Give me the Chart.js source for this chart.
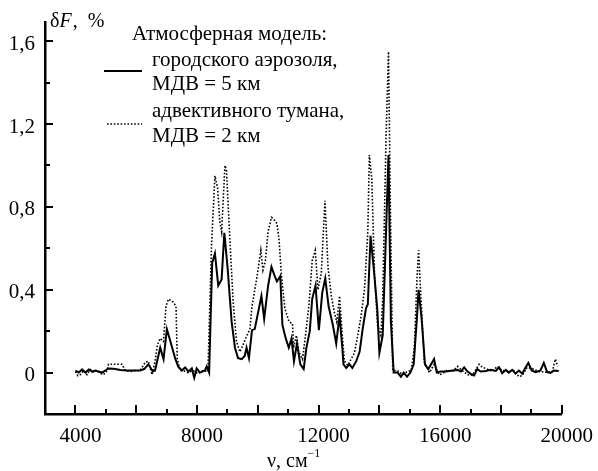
<!DOCTYPE html>
<html>
<head>
<meta charset="utf-8">
<script src="https://cdn.jsdelivr.net/npm/chart.js@4"></script>
<style>
  html, body { margin: 0; padding: 0; background: #fff; }
</style>
</head>
<body>
<canvas id="chart" width="598" height="471"></canvas>
<script>
// Wavenumbers (cm^-1) and deltaF (%)
const urbanNu = [4000, 4110, 4220, 4330, 4440, 4550, 4660, 4760, 4880, 4980, 5090, 5260, 5480, 5700, 5910, 6130, 6260, 6400, 6550, 6620, 6790, 6900, 7010, 7280, 7380, 7500, 7610, 7720, 7830, 7910, 7990, 8100, 8260, 8320, 8400, 8500, 8590, 8700, 8810, 8900, 9010, 9140, 9250, 9350, 9470, 9570, 9630, 9710, 9810, 9900, 10010, 10120, 10210, 10340, 10450, 10560, 10630, 10740, 10810, 10920, 11020, 11110, 11190, 11290, 11400, 11510, 11600, 11710, 11790, 11900, 12010, 12120, 12220, 12330, 12470, 12580, 12690, 12780, 12820, 12910, 13020, 13110, 13240, 13350, 13450, 13560, 13620, 13710, 13810, 13930, 14000, 14110, 14300, 14380, 14470, 14600, 14710, 14800, 14910, 15020, 15130, 15240, 15290, 15390, 15500, 15610, 15800, 15890, 16020, 16190, 16400, 16570, 16680, 16790, 16900, 17010, 17120, 17220, 17330, 17500, 17660, 17830, 17940, 18040, 18160, 18260, 18370, 18480, 18590, 18700, 18790, 18900, 19010, 19140, 19300, 19410, 19520, 19630, 19740, 19900];
const urbanDf = [0.01, 0.0, 0.015, 0.0, 0.015, 0.005, 0.01, 0.005, 0.0, 0.01, 0.02, 0.018, 0.012, 0.01, 0.01, 0.01, 0.017, 0.04, 0.005, 0.01, 0.12, 0.065, 0.21, 0.07, 0.03, 0.01, 0.025, 0.005, 0.02, -0.025, 0.02, 0.0, 0.01, 0.03, 0.0, 0.53, 0.575, 0.42, 0.45, 0.675, 0.5, 0.245, 0.12, 0.07, 0.065, 0.08, 0.12, 0.07, 0.205, 0.21, 0.29, 0.37, 0.26, 0.42, 0.51, 0.465, 0.44, 0.465, 0.23, 0.165, 0.12, 0.165, 0.055, 0.14, 0.04, 0.017, 0.12, 0.2, 0.355, 0.42, 0.205, 0.385, 0.455, 0.32, 0.23, 0.14, 0.275, 0.12, 0.04, 0.022, 0.04, 0.022, 0.055, 0.1, 0.21, 0.31, 0.33, 0.66, 0.51, 0.31, 0.095, 0.18, 1.05, 0.245, 0.0, 0.0, -0.02, 0.0, -0.02, 0.0, 0.04, 0.275, 0.4, 0.26, 0.04, 0.017, 0.065, 0.0, 0.005, 0.005, 0.01, 0.013, 0.005, 0.025, 0.005, -0.006, -0.014, 0.017, 0.005, 0.008, 0.013, 0.008, 0.025, -0.003, 0.013, 0.0, 0.013, -0.005, 0.01, -0.005, 0.02, 0.047, 0.01, 0.002, 0.01, 0.047, 0.002, -0.002, 0.01, 0.008];

const fogNu = [4000, 4080, 4160, 4270, 4380, 4490, 4600, 4710, 4840, 4930, 5040, 5090, 5530, 5640, 5800, 5970, 6130, 6300, 6400, 6520, 6620, 6700, 6790, 6900, 6980, 7060, 7220, 7310, 7350, 7440, 7540, 7700, 7870, 8030, 8200, 8360, 8480, 8590, 8680, 8750, 8810, 8920, 8970, 9080, 9190, 9300, 9410, 9520, 9630, 9740, 9810, 9960, 10100, 10170, 10250, 10340, 10450, 10500, 10630, 10700, 10780, 10890, 11030, 11140, 11180, 11270, 11350, 11470, 11570, 11680, 11790, 11890, 11980, 12090, 12210, 12310, 12420, 12520, 12600, 12690, 12780, 12850, 12960, 13070, 13180, 13290, 13400, 13510, 13620, 13670, 13750, 13840, 13940, 14050, 14110, 14220, 14300, 14360, 14440, 14590, 14760, 14920, 15050, 15150, 15240, 15290, 15370, 15480, 15650, 15800, 15970, 16080, 16200, 16400, 16570, 16680, 16900, 17060, 17280, 17390, 17500, 17720, 17880, 18040, 18260, 18430, 18590, 18700, 18860, 19020, 19250, 19470, 19690, 19790, 19870];
const fogDf = [0.005, -0.015, -0.01, 0.01, -0.01, 0.015, 0.0, 0.01, -0.005, -0.01, 0.01, 0.04, 0.04, 0.01, 0.005, 0.01, 0.01, 0.05, 0.055, -0.01, 0.055, 0.135, 0.165, 0.15, 0.32, 0.355, 0.34, 0.32, 0.07, 0.01, 0.01, 0.0, 0.01, -0.005, 0.01, 0.005, 0.62, 0.95, 0.89, 0.73, 0.68, 1.0, 0.975, 0.65, 0.34, 0.15, 0.1, 0.135, 0.175, 0.21, 0.32, 0.45, 0.59, 0.495, 0.54, 0.68, 0.75, 0.745, 0.72, 0.64, 0.465, 0.31, 0.245, 0.237, 0.12, 0.18, 0.1, 0.065, 0.18, 0.32, 0.54, 0.59, 0.4, 0.48, 0.83, 0.51, 0.37, 0.29, 0.245, 0.37, 0.18, 0.055, 0.035, 0.065, 0.095, 0.18, 0.275, 0.4, 0.68, 1.05, 0.935, 0.48, 0.23, 0.18, 0.355, 1.14, 1.55, 0.825, 0.01, 0.01, -0.01, 0.005, 0.01, 0.12, 0.465, 0.59, 0.355, 0.05, 0.0, 0.04, -0.01, -0.005, 0.01, 0.005, 0.03, 0.015, -0.01, -0.014, 0.04, 0.025, 0.02, 0.005, 0.03, 0.01, 0.005, 0.01, -0.02, -0.014, 0.025, 0.02, 0.005, 0.002, 0.005, 0.065, 0.03];

const xTicks = [4000, 8000, 12000, 16000, 20000];
const yTicks = [0, 0.4, 0.8, 1.2, 1.6];

const legendTitle = "Атмосферная модель:";
const urbanLabel = ["городского аэрозоля,", "МДВ = 5 км"];
const fogLabel = ["адвективного тумана,", "МДВ = 2 км"];

const FONT = "'Liberation Serif', 'Times New Roman', serif";

function toPoints(nu, df) {
    return nu.map((v, i) => ({ x: v, y: df[i] }));
}

// tick marks drawn inside the plot, majors longer
const innerTicks = {
    id: "innerTicks",
    afterDatasetsDraw(chart) {
        const { ctx, scales: { x, y } } = chart;
        ctx.save();
        ctx.strokeStyle = "#000";
        ctx.lineWidth = 2;
        for (let v = 4000; v <= 20000; v += 1000) {
            const px = Math.round(x.getPixelForValue(v));
            const len = v % 2000 === 0 ? 9 : 5;
            ctx.beginPath();
            ctx.moveTo(px, y.bottom);
            ctx.lineTo(px, y.bottom - len);
            ctx.stroke();
        }
        for (let i = 0; i <= 8; i++) {
            const py = Math.round(y.getPixelForValue(i * 0.2));
            const len = i % 2 === 0 ? 8 : 5;
            ctx.beginPath();
            ctx.moveTo(x.left, py);
            ctx.lineTo(x.left + len, py);
            ctx.stroke();
        }
        ctx.restore();
    },
};

// axis titles and the legend block
const annotations = {
    id: "annotations",
    afterDraw(chart) {
        const { ctx } = chart;
        const ds = chart.data.datasets;
        ctx.save();
        ctx.fillStyle = "#000";
        ctx.textBaseline = "alphabetic";

        // y title: δF, %
        ctx.font = `20px ${FONT}`;
        ctx.fillText("δ", 50, 27);
        let w = ctx.measureText("δ").width;
        ctx.font = `italic 20px ${FONT}`;
        ctx.fillText("F", 50 + w, 27);
        w += ctx.measureText("F").width;
        ctx.font = `20px ${FONT}`;
        ctx.fillText(",  %", 50 + w + 1, 27);

        // x title: ν, см^-1
        ctx.fillText("ν, см", 267, 467);
        const tw = ctx.measureText("ν, см").width;
        ctx.font = `12px ${FONT}`;
        ctx.fillText("−1", 267 + tw, 457);

        ctx.font = `21px ${FONT}`;
        ctx.fillText(legendTitle, 132, 40);
        ctx.fillText(urbanLabel[0], 152, 66);
        ctx.fillText(urbanLabel[1], 152, 90);
        ctx.fillText(fogLabel[0], 152, 117);
        ctx.fillText(fogLabel[1], 152, 142);

        const samples = [[ds[0], 71, 104], [ds[1], 124, 107]];
        samples.forEach(([d, yy, x0]) => {
            ctx.strokeStyle = d.borderColor;
            ctx.lineWidth = d.borderWidth;
            ctx.setLineDash(d.borderDash || []);
            ctx.beginPath();
            ctx.moveTo(x0, yy);
            ctx.lineTo(142, yy);
            ctx.stroke();
        });
        ctx.restore();
    },
};

function renderChart() {
    const ctx = document.getElementById("chart").getContext("2d");
    new Chart(ctx, {
        type: "line",
        data: {
            datasets: [
                {
                    label: "городского аэрозоля",
                    data: toPoints(urbanNu, urbanDf),
                    borderColor: "#000",
                    borderWidth: 2,
                    pointRadius: 0,
                    tension: 0,
                },
                {
                    label: "адвективного тумана",
                    data: toPoints(fogNu, fogDf),
                    borderColor: "#000",
                    borderWidth: 1.6,
                    borderDash: [1.6, 1.8],
                    pointRadius: 0,
                    tension: 0,
                },
            ],
        },
        options: {
            responsive: false,
            animation: false,
            layout: { padding: { top: 13, right: 35, left: 0, bottom: 0 } },
            plugins: {
                legend: { display: false },
                tooltip: { enabled: false },
            },
            scales: {
                x: {
                    type: "linear",
                    min: 3000,
                    max: 20000,
                    afterBuildTicks: (s) => { s.ticks = xTicks.map((v) => ({ value: v })); },
                    afterFit: (s) => { s.height = 57; },
                    grid: { display: false, drawTicks: false },
                    border: { display: true, color: "#000", width: 2.5 },
                    ticks: {
                        color: "#000",
                        font: { family: FONT, size: 21 },
                        padding: 10,
                        labelOffset: 5,
                        maxRotation: 0,
                        callback: (v) => String(v),
                    },
                },
                y: {
                    type: "linear",
                    min: -0.2,
                    max: 1.69,
                    afterBuildTicks: (s) => { s.ticks = yTicks.map((v) => ({ value: v })); },
                    afterFit: (s) => { s.width = 45; },
                    grid: { display: false, drawTicks: false },
                    border: { display: true, color: "#000", width: 2.5 },
                    ticks: {
                        color: "#000",
                        font: { family: FONT, size: 21 },
                        padding: 10,
                        labelOffset: 3,
                        callback: (v) => String(Math.round(v * 10) / 10).replace(".", ","),
                    },
                },
            },
        },
        plugins: [innerTicks, annotations],
    });
}

renderChart();
</script>
</body>
</html>
